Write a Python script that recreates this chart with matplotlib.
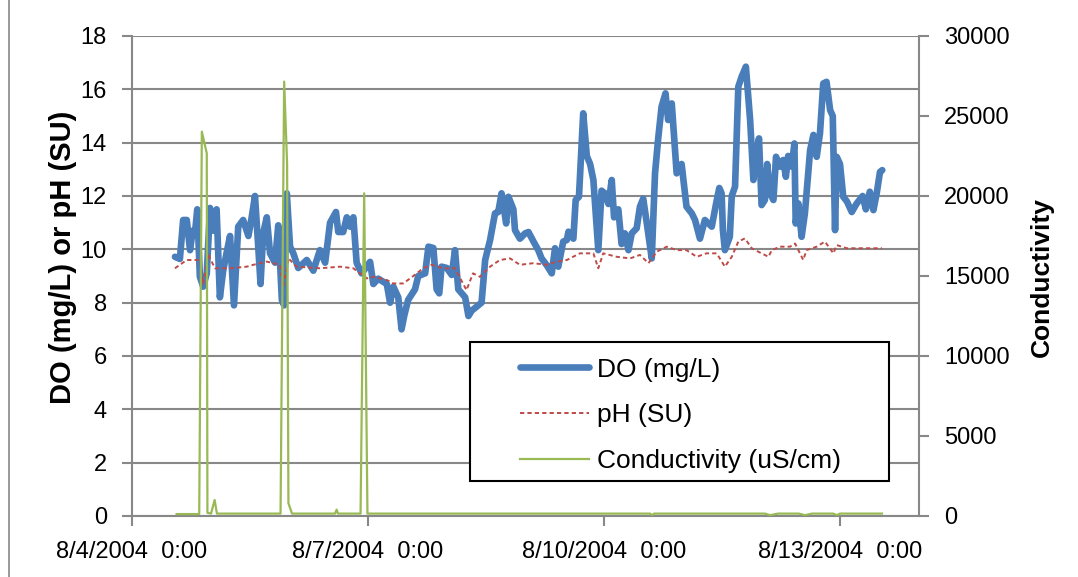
import matplotlib
matplotlib.use("Agg")
import matplotlib.pyplot as plt
import pandas as pd
from matplotlib.patches import Rectangle
from matplotlib.lines import Line2D

START = pd.Timestamp("2004-08-04 00:00")

# hours after 8/4/2004 0:00 and readings
do_hours = [13.1, 14.6, 15.6, 16.7, 17.7, 18.5, 19.2, 19.9, 20.7, 21.7, 22.8, 23.8,
            24.8, 25.8, 26.8, 27.8, 28.9, 29.9, 31.1, 32.4, 33.9, 35.5, 36.5, 37.5,
            38.5, 39.2, 40.0, 41.1, 42.1, 43.6, 44.6, 45.7, 46.4, 47.2, 48.2, 49.2,
            50.7, 53.3, 55.3, 57.3, 58.9, 60.4, 62.2, 62.9, 64.4, 65.5, 66.5, 67.5,
            68.5, 70.0, 71.6, 72.6, 73.6, 75.1, 77.7, 78.7, 79.7, 81.2, 82.2, 83.0,
            84.2, 86.3, 87.3, 89.4, 90.4, 91.9, 92.9, 93.7, 94.4, 96.0, 97.5, 98.5,
            99.5, 101.6, 102.6, 103.6, 105.1, 106.6, 107.7, 109.2, 110.7, 111.7, 112.7, 114.1,
            114.8, 116.3, 116.8, 118.3, 119.9, 120.9, 122.4, 123.9, 124.9, 126.5, 128.0, 129.0,
            130.0, 131.5, 132.6, 133.1, 134.6, 135.3, 136.3, 137.6, 138.7, 139.7, 140.7, 142.2,
            143.2, 144.2, 145.3, 146.3, 147.0, 148.3, 149.3, 150.3, 151.4, 152.4, 153.9, 154.9,
            155.9, 157.0, 158.5, 159.5, 160.5, 161.5, 162.7, 163.5, 164.6, 166.1, 167.6, 169.1,
            170.7, 171.7, 173.2, 174.7, 176.8, 178.1, 179.1, 179.8, 180.2, 180.8, 182.3, 182.9,
            183.9, 184.9, 185.9, 187.2, 188.5, 189.5, 190.5, 191.2, 192.0, 193.0, 193.7, 194.6,
            195.6, 196.4, 197.6, 198.6, 199.4, 200.1, 201.2, 202.0, 202.4, 203.2, 204.2, 205.2,
            206.8, 207.8, 208.8, 209.8, 210.8, 211.8, 212.9, 213.7, 214.4, 214.9, 215.9, 216.9,
            218.0, 219.5, 221.0, 222.8, 223.8, 225.0, 226.1, 227.1, 228.1, 228.8]
do_mgl = [9.72, 9.64, 11.1, 11.1, 9.97, 10.7, 10.6, 11.5, 8.97, 8.6, 9.1, 11.55,
          10.7, 11.5, 8.2, 9.2, 9.9, 10.5, 7.9, 10.85, 11.1, 10.5, 11.2, 12.0,
          10.1, 8.7, 10.6, 11.2, 9.85, 9.5, 10.9, 8.1, 7.9, 12.1, 10.1, 9.85,
          9.3, 9.6, 9.2, 9.97, 9.5, 11.0, 11.4, 10.65, 10.65, 11.2, 10.85, 11.2,
          9.5, 9.1, 9.35, 9.53, 8.7, 8.9, 8.7, 8.0, 8.6, 8.2, 7.0, 7.5,
          8.1, 8.5, 9.0, 9.1, 10.1, 10.05, 8.5, 8.35, 9.35, 9.3, 9.04, 9.97,
          8.5, 8.2, 7.5, 7.7, 7.85, 8.0, 9.6, 10.35, 11.35, 11.4, 12.1, 10.97,
          11.97, 11.5, 10.72, 10.4, 10.6, 10.65, 10.3, 9.97, 9.66, 9.4, 9.1, 10.04,
          9.35, 10.29, 10.35, 10.66, 10.4, 11.85, 11.97, 15.1, 13.5, 13.2, 12.6, 9.97,
          12.2, 12.1, 11.7, 12.6, 11.2, 11.5, 10.2, 10.6, 9.97, 10.6, 10.79, 11.6,
          11.9, 10.97, 9.66, 12.85, 14.2, 15.35, 15.85, 14.85, 15.47, 12.85, 13.2, 11.6,
          11.35, 11.1, 10.4, 11.1, 10.85, 11.7, 12.3, 12.1, 10.72, 9.97, 10.47, 12.0,
          12.35, 16.1, 16.47, 16.85, 14.85, 12.6, 13.6, 14.16, 11.66, 11.85, 13.2, 12.1,
          11.85, 13.47, 13.1, 13.35, 12.72, 13.5, 13.1, 13.97, 10.97, 11.72, 10.47, 11.35,
          13.72, 14.29, 13.47, 14.35, 16.22, 16.28, 15.22, 15.0, 10.72, 13.47, 13.2, 11.97,
          11.8, 11.4, 11.72, 12.0, 11.5, 12.16, 11.47, 12.1, 12.9, 12.97]

ph_hours = [13.1, 16.7, 20.7, 21.7, 23.3, 25.3, 29.9, 35.0, 37.0, 41.1, 45.1, 46.1,
            47.7, 50.2, 57.3, 63.4, 67.5, 69.5, 71.6, 73.6, 77.7, 79.7, 82.7, 85.8,
            88.8, 91.4, 94.9, 98.5, 102.0, 104.0, 106.1, 109.2, 112.2, 115.3, 118.3, 122.4,
            126.5, 129.5, 132.6, 136.6, 140.7, 142.2, 143.7, 147.8, 151.9, 154.9, 157.5, 160.0,
            163.1, 166.1, 169.1, 172.2, 175.2, 178.3, 180.8, 182.9, 184.9, 186.9, 189.0, 191.0,
            194.1, 195.1, 197.6, 200.7, 202.2, 203.7, 204.7, 205.7, 208.8, 211.3, 213.9, 214.9,
            218.0, 222.0, 226.6, 228.7]
ph_su = [9.29, 9.6, 9.6, 8.7, 9.79, 9.29, 9.29, 9.35, 9.42, 9.54, 9.42, 8.6,
         9.66, 9.35, 9.29, 9.35, 9.29, 9.1, 8.91, 8.97, 8.85, 8.72, 8.72, 9.0,
         9.29, 9.42, 9.29, 9.29, 8.47, 9.1, 8.97, 9.35, 9.6, 9.66, 9.42, 9.48,
         9.42, 9.54, 9.6, 9.85, 9.85, 9.29, 9.85, 9.72, 9.66, 9.79, 9.48, 9.91,
         10.1, 9.97, 9.97, 9.72, 9.85, 9.85, 9.35, 9.72, 10.29, 10.41, 10.04, 9.91,
         9.72, 9.97, 10.1, 10.1, 10.22, 9.85, 9.6, 9.97, 10.1, 10.29, 9.85, 10.16,
         10.04, 10.04, 10.04, 10.04]

cond_hours = [13.6, 20.5, 21.3, 22.8, 23.0, 24.1, 25.2, 25.9, 45.3, 46.4, 47.3, 47.7,
              48.8, 61.9, 62.4, 62.8, 69.7, 70.8, 71.8, 158.0, 158.6, 159.2, 193.0, 194.6,
              197.0, 203.4, 205.2, 207.4, 213.8, 215.0, 215.9, 228.7]
cond_us = [120, 120, 24020, 22670, 200, 150, 1000, 150, 150, 27150, 22000, 800,
           150, 150, 400, 150, 150, 20170, 150, 150, 40, 150, 150, 50,
           150, 150, 50, 150, 150, 50, 150, 150]

tick_days = ["2004-08-04", "2004-08-07", "2004-08-10", "2004-08-13"]
tick_text = ["8/4/2004  0:00", "8/7/2004  0:00", "8/10/2004  0:00", "8/13/2004  0:00"]


def to_time(hours):
    return START + pd.to_timedelta(hours, unit="h")


plt.rcParams["font.family"] = ["Liberation Sans", "DejaVu Sans"]
GRAY = "#888888"
FS = 17

fig = plt.figure(figsize=(10.78, 5.77), dpi=100)
ax = fig.add_axes([132 / 1078, 61 / 577, 787 / 1078, 480 / 577])
ax2 = ax.twinx()

# chart-area border along the left edge
fig.add_artist(Line2D([8.5 / 1078, 8.5 / 1078], [0, 1], color=GRAY, lw=1.2,
                      transform=fig.transFigure))

ax.plot(to_time(do_hours), do_mgl, color="#4A7EBB", lw=4.8,
        solid_joinstyle="round", solid_capstyle="round", label="DO (mg/L)")
ax.plot(to_time(ph_hours), ph_su, color="#BE4B48", lw=1.4,
        linestyle=(0, (2.2, 1.6)), label="pH (SU)")
ax2.plot(to_time(cond_hours), cond_us, color="#98B954", lw=1.6,
         label="Conductivity (uS/cm)")

ax.set_xlim(START, START + pd.Timedelta(days=10))
ax.set_ylim(0, 18)
ax.set_yticks(range(0, 19, 2))
ax2.set_ylim(0, 30000)
ax2.set_yticks(range(0, 30001, 5000))
ax.set_xticks(pd.to_datetime(tick_days))
ax.set_xticklabels(tick_text)

ax.yaxis.grid(True, color=GRAY, lw=1.5)
ax.set_axisbelow(True)

for a in (ax, ax2):
    a.spines["top"].set_visible(False)
    a.tick_params(length=7, width=1.5, color=GRAY, labelsize=FS, pad=11)
ax.spines["right"].set_visible(False)
ax2.spines["left"].set_visible(False)
ax2.spines["bottom"].set_visible(False)
for name in ("left", "bottom"):
    ax.spines[name].set_color(GRAY)
    ax.spines[name].set_linewidth(1.5)
ax2.spines["right"].set_color(GRAY)
ax2.spines["right"].set_linewidth(1.5)

ax.set_ylabel("DO (mg/L) or pH (SU)", fontsize=21, fontweight="bold")
ax.yaxis.set_label_coords(-0.07, 0.539)
ax2.set_ylabel("Conductivity", fontsize=19, fontweight="bold")
ax2.yaxis.set_label_coords(1.141, 0.498)

# legend box with white fill over the lines
ax2.add_patch(Rectangle((0.4295, 0.0729), 0.5324, 0.2896, transform=ax2.transAxes,
                        facecolor="white", edgecolor="black", lw=1.5, zorder=4.5,
                        clip_on=False))
handles = ax.get_lines() + ax2.get_lines()
ax2.legend(handles, [h.get_label() for h in handles], loc="upper left",
           bbox_to_anchor=(0.493, 0.33), frameon=False, fontsize=19,
           handlelength=2.6, handletextpad=0.3, labelspacing=0.82, borderpad=0,
           borderaxespad=0)

fig.savefig("out.png", dpi=100)
